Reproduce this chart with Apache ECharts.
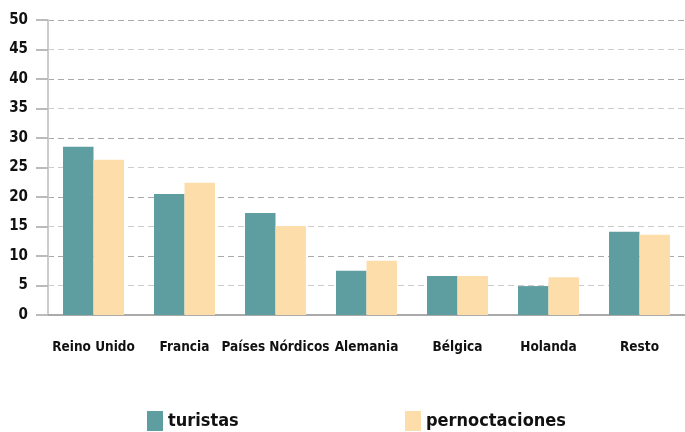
<!DOCTYPE html>
<html lang="es">
    <head>
        <meta charset="utf-8" />
        <title>turistas y pernoctaciones</title>
        <style>
            * {
                margin: 0;
                padding: 0;
            }
            #chart {
                width: 685px;
                height: 432px;
            }
        </style>
    </head>
    <body>
        <div id="chart"></div>
        <script src="https://cdn.jsdelivr.net/npm/echarts@6/dist/echarts.min.js"></script>
        <script>
            const paises = ['Reino Unido', 'Francia', 'Países Nórdicos', 'Alemania', 'Bélgica', 'Holanda', 'Resto']
            const turistas = [28.5, 20.5, 17.3, 7.5, 6.6, 4.9, 14.1]
            const pernoctaciones = [26.3, 22.4, 15.1, 9.2, 6.6, 6.4, 13.6]

            const fuente = '"DejaVu Sans Condensed", sans-serif'
            const leyenda = (nombre, x) => ({
                bottom: -4,
                left: x,
                icon: 'rect',
                itemWidth: 16,
                itemHeight: 20,
                itemGap: 0,
                textStyle: { fontSize: 18, fontWeight: 'bold', color: '#111', fontFamily: fuente },
                data: [nombre],
            })
            const chart = echarts.init(document.getElementById('chart'))
            chart.setOption({
                animation: false,
                textStyle: { fontFamily: fuente },
                grid: { left: 48, right: 0, top: 20, bottom: 117 },
                legend: [leyenda('turistas', 142), leyenda('pernoctaciones', 400)],
                xAxis: {
                    type: 'category',
                    data: paises,
                    axisLine: { lineStyle: { color: '#aaa', width: 2 } },
                    axisTick: { length: 12, lineStyle: { color: '#aaa', width: 2 } },
                    axisLabel: { margin: 25, fontSize: 13.5, fontWeight: 'bold', color: '#111', interval: 0 },
                },
                yAxis: {
                    type: 'value',
                    min: 0,
                    max: 50,
                    interval: 5,
                    axisLine: { show: true, lineStyle: { color: '#ccc', width: 2 } },
                    axisTick: { show: true, length: 12, lineStyle: { color: '#bbb', width: 2 } },
                    axisLabel: { margin: 20, fontSize: 15, fontWeight: 'bold', color: '#111' },
                    splitLine: { lineStyle: { color: ['#aaa', '#ccc'], type: [6, 4], width: 1 } },
                },
                series: [
                    {
                        name: 'turistas',
                        type: 'bar',
                        data: turistas,
                        barGap: 0,
                        barCategoryGap: '33%',
                        itemStyle: { color: '#5f9ea0' },
                    },
                    {
                        name: 'pernoctaciones',
                        type: 'bar',
                        data: pernoctaciones,
                        itemStyle: { color: '#fddeab' },
                    },
                ],
            })
        </script>
    </body>
</html>
